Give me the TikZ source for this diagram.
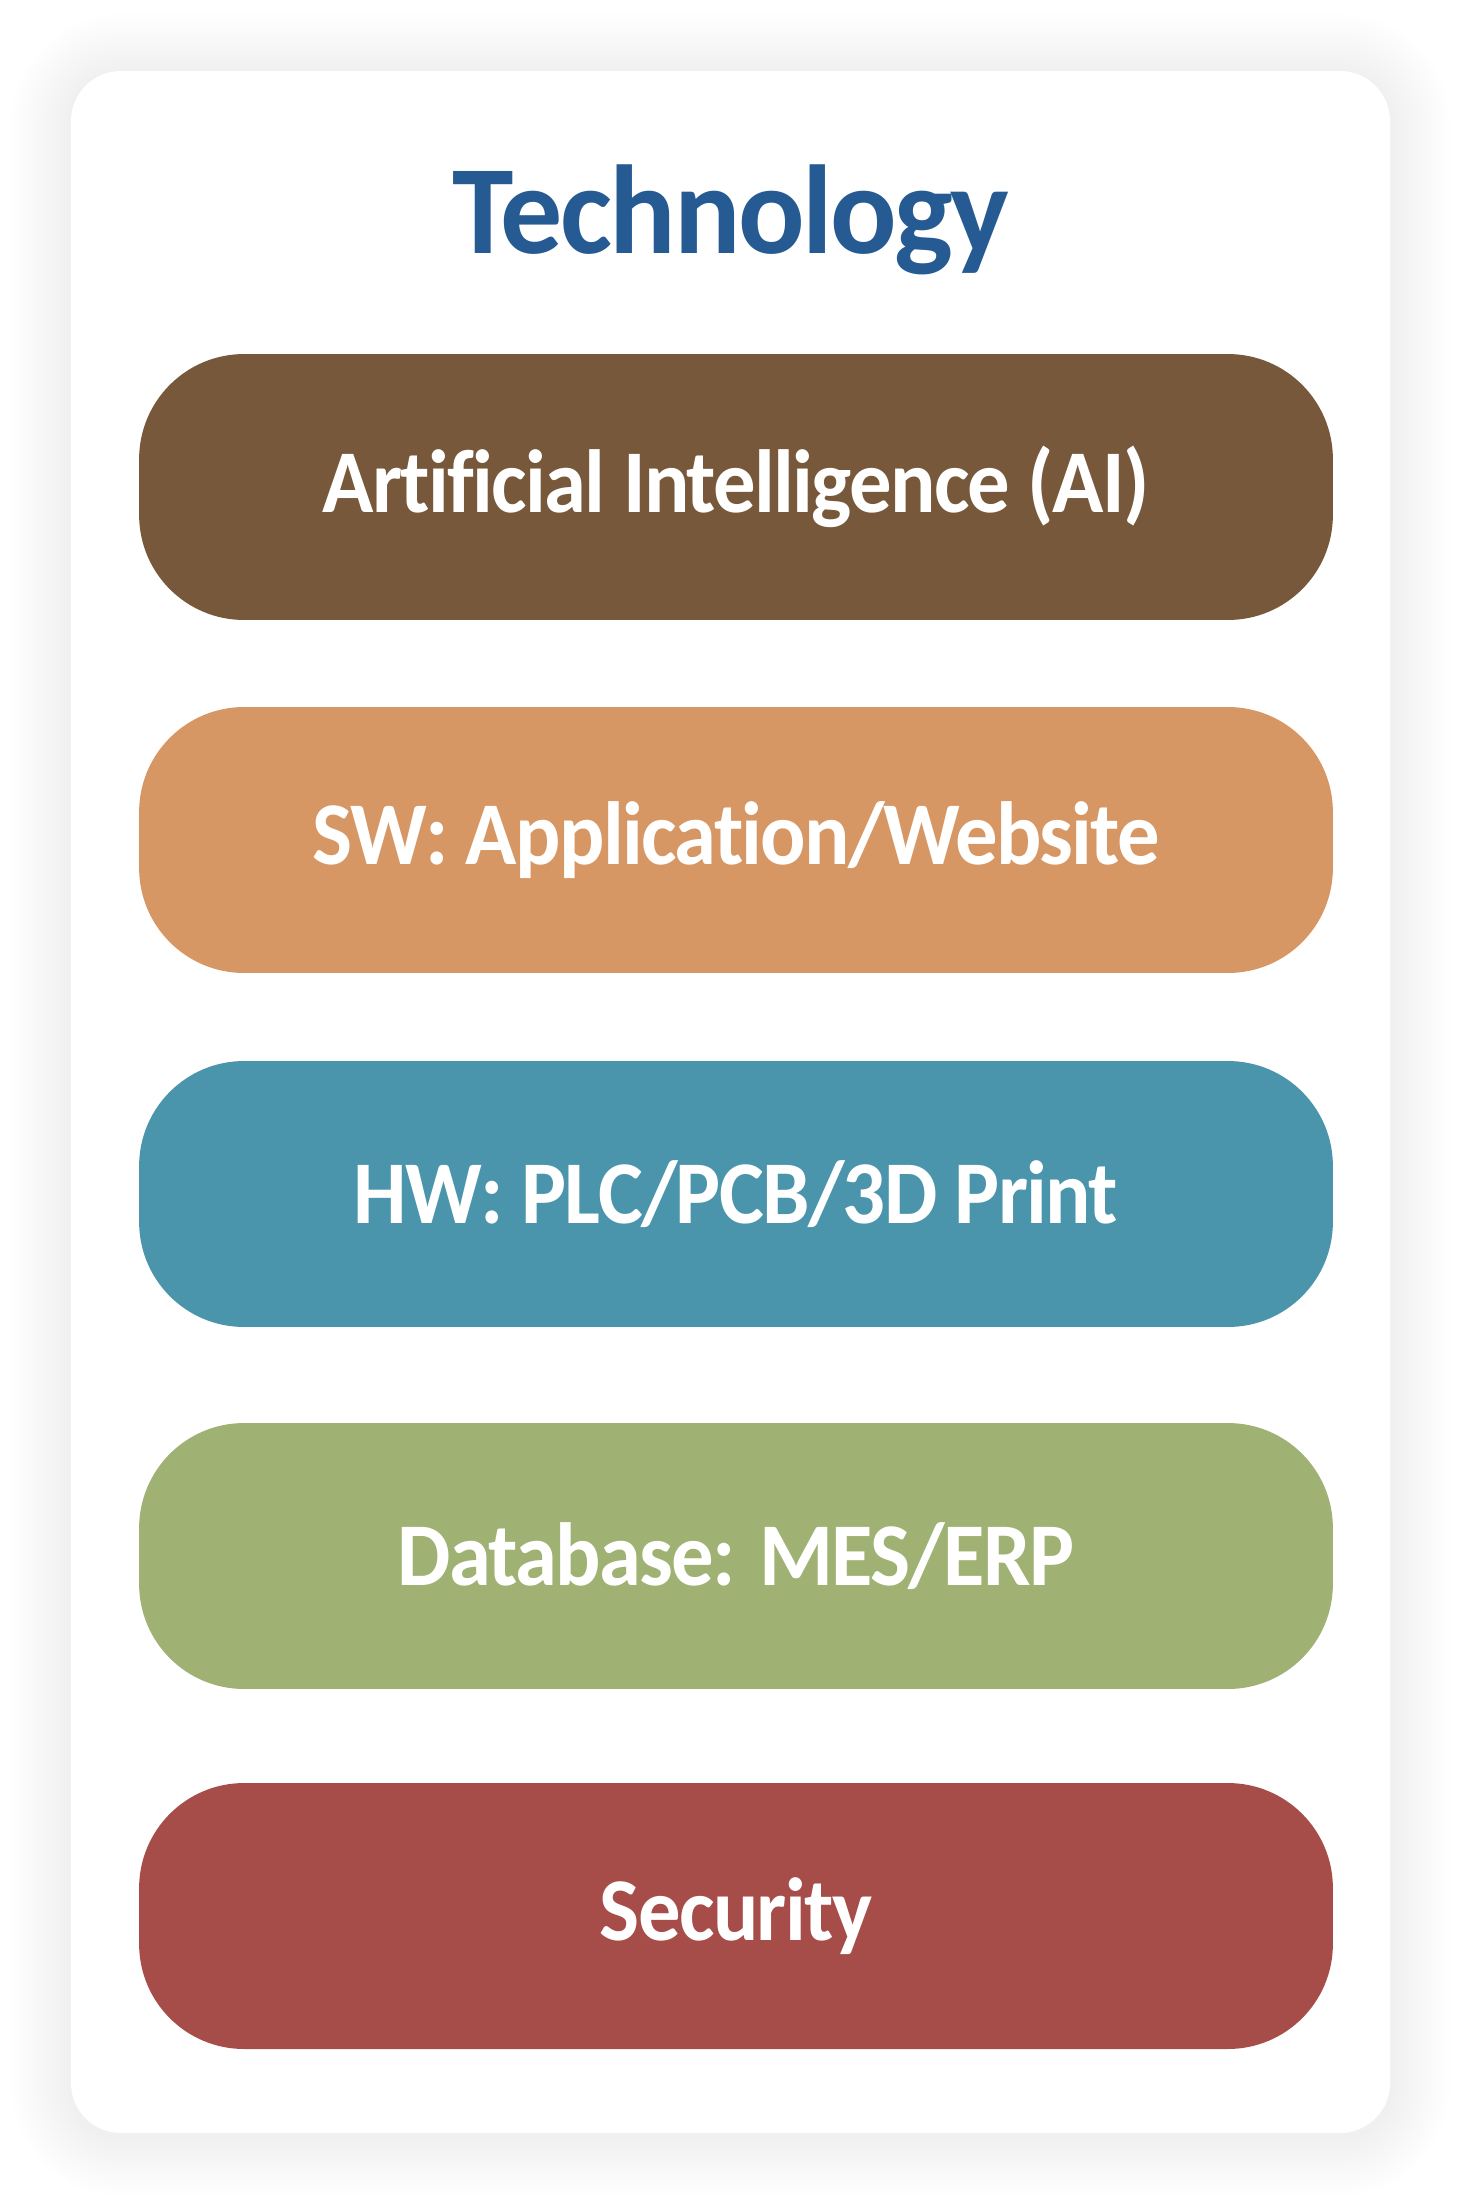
\documentclass[tikz,border=0pt]{standalone}
\usepackage{fontspec}
\setmainfont{Carlito}[RawFeature=-liga, LetterSpace=-2]
\usepackage{graphicx}
\usepackage{xcolor}

\definecolor{titleblue}{HTML}{255A93}
\definecolor{aibrown}{HTML}{78583A}
\definecolor{sworange}{HTML}{D79764}
\definecolor{hwteal}{HTML}{4A95AC}
\definecolor{dbgreen}{HTML}{A0B273}
\definecolor{secred}{HTML}{A64D4A}

\newcommand{\narrow}[2][0.945]{\scalebox{#1}[1]{#2}}

\begin{document}
\begin{tikzpicture}[
    x=0.02cm, y=-0.02cm,
    pill/.style={rounded corners=2.1cm, minimum width=23.88cm, minimum height=5.32cm, inner sep=0pt, text=white, font=\fontsize{51}{60}\selectfont\bfseries},
    heading/.style={anchor=base, inner sep=0pt, text=titleblue, font=\fontsize{72}{84}\selectfont\bfseries}
]
\useasboundingbox (0,0) rectangle (1461,2205);

% soft shadow round the card
\foreach \s in {1,...,15} {
    \pgfmathsetmacro\rad{1+0.08*\s}
    \fill[black, fill opacity=0.004, rounded corners=\rad cm] ({71-4*\s},{74-4*\s}) rectangle ({1390+4*\s},{2136+4*\s});
}
\fill[white, rounded corners=1cm] (71,71) rectangle (1390,2133);

\node[heading] (title) at (731,253) {\narrow[0.98]{Technology}};

\node[pill, fill=aibrown] (ai) at (736,487) {\narrow{Artificial Intelligence (AI)}};
\node[pill, fill=sworange] (sw) at (736,840) {\narrow{SW: Application/Website}};
\node[pill, fill=hwteal] (hw) at (736,1194) {\narrow{HW: PLC/PCB/3D Print}};
\node[pill, fill=dbgreen] (db) at (736,1556) {\narrow{Database: MES/ERP}};
\node[pill, fill=secred] (sec) at (736,1916) {\narrow{Security}};
\end{tikzpicture}
\end{document}
